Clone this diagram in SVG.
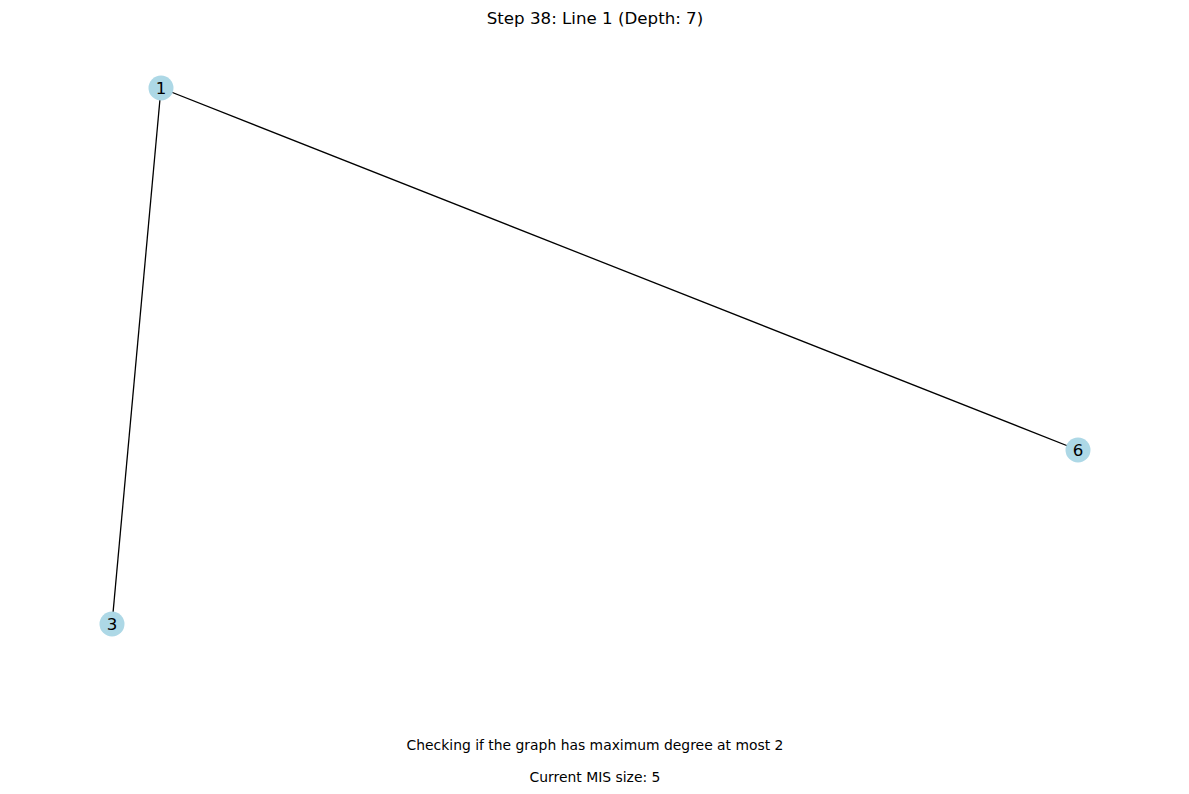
<svg xmlns="http://www.w3.org/2000/svg" width="1189" height="794" viewBox="0 0 1189 794">
<style>
text{font-family:"DejaVu Sans",sans-serif;fill:#000}
.node circle{fill:#add8e6}
.node text{font-size:16.67px;text-anchor:middle;dominant-baseline:central}
.edge{stroke:#000;stroke-width:1.3;fill:none}
.cap{font-size:13.9px;text-anchor:middle}
</style>
<rect width="1189" height="794" fill="#fff"/>
<text x="595" y="24" style="font-size:16.67px;text-anchor:middle">Step 38: Line 1 (Depth: 7)</text>
<g id="connectors">
<line class="edge" x1="161" y1="88" x2="1078" y2="450"/>
<line class="edge" x1="161" y1="88" x2="112" y2="624"/>
</g>
<g id="node-1" class="node"><circle cx="161" cy="88" r="12.5"/><text x="161" y="88">1</text></g>
<g id="node-6" class="node"><circle cx="1078" cy="450" r="12.5"/><text x="1078" y="450">6</text></g>
<g id="node-3" class="node"><circle cx="112" cy="624" r="12.5"/><text x="112" y="624">3</text></g>
<text class="cap" x="595" y="750">Checking if the graph has maximum degree at most 2</text>
<text class="cap" x="595" y="782">Current MIS size: 5</text>
</svg>
